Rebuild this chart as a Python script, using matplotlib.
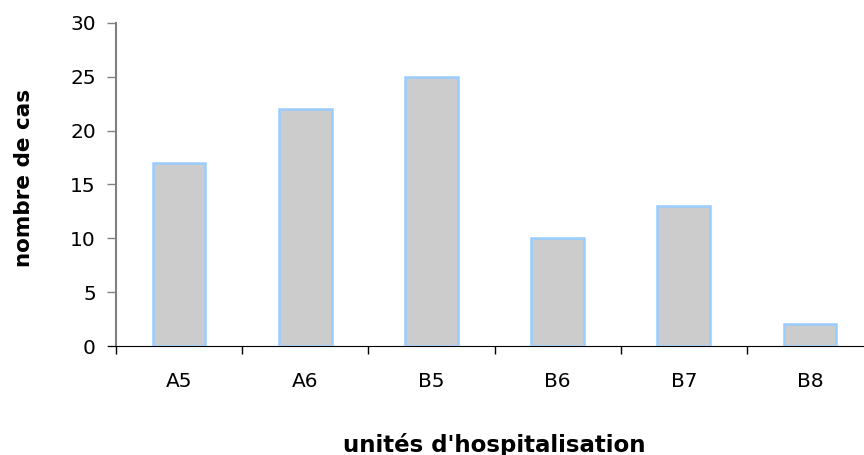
import matplotlib.pyplot as plt

units = ['A5', 'A6', 'B5', 'B6', 'B7', 'B8']
cases = [17, 22, 25, 10, 13, 2]

plt.rcParams['font.family'] = ['DejaVu Sans']

fig = plt.figure(figsize=(8.64, 4.55), dpi=100)
# axes reach slightly past the right edge, so the last category is cut off
ax = fig.add_axes([116 / 864, 1 - 346 / 455, 757 / 864, 323 / 455])

x = range(len(units))
ax.bar(x, cases, width=0.417, color='#CCCCCC', edgecolor='#99CCFF', linewidth=1.8, zorder=3)

ax.set_xlim(-0.5, len(units) - 0.5)
ax.set_ylim(0, 30)
ax.set_yticks(range(0, 31, 5))
ax.tick_params(axis='y', direction='out', length=6.5, width=1, color='#808080', labelsize=14.5, pad=8)

# category boundaries carry the tick marks, labels sit at the bar centres
ax.set_xticks([i - 0.5 for i in x])
ax.set_xticklabels([])
ax.set_xticks(list(x), minor=True)
ax.set_xticklabels(units, minor=True, fontsize=14.5)
ax.tick_params(axis='x', which='major', direction='out', length=6, width=1, color='black')
ax.tick_params(axis='x', which='minor', length=0, pad=19)

for s in ['top', 'right']:
    ax.spines[s].set_visible(False)
ax.spines['left'].set_color('#808080')
ax.spines['left'].set_linewidth(1.5)
ax.spines['bottom'].set_color('black')
ax.spines['bottom'].set_bounds(-0.565, len(units) - 0.5)

ax.set_ylabel('nombre de cas', fontsize=15.5, fontweight='bold', va='center')
ax.set_xlabel("unités d'hospitalisation", fontsize=16.5, fontweight='bold', va='center')
ax.yaxis.set_label_coords(-0.122, 0.52)
ax.xaxis.set_label_coords(0.5, -0.305)

fig.savefig('out.png', dpi=100)
